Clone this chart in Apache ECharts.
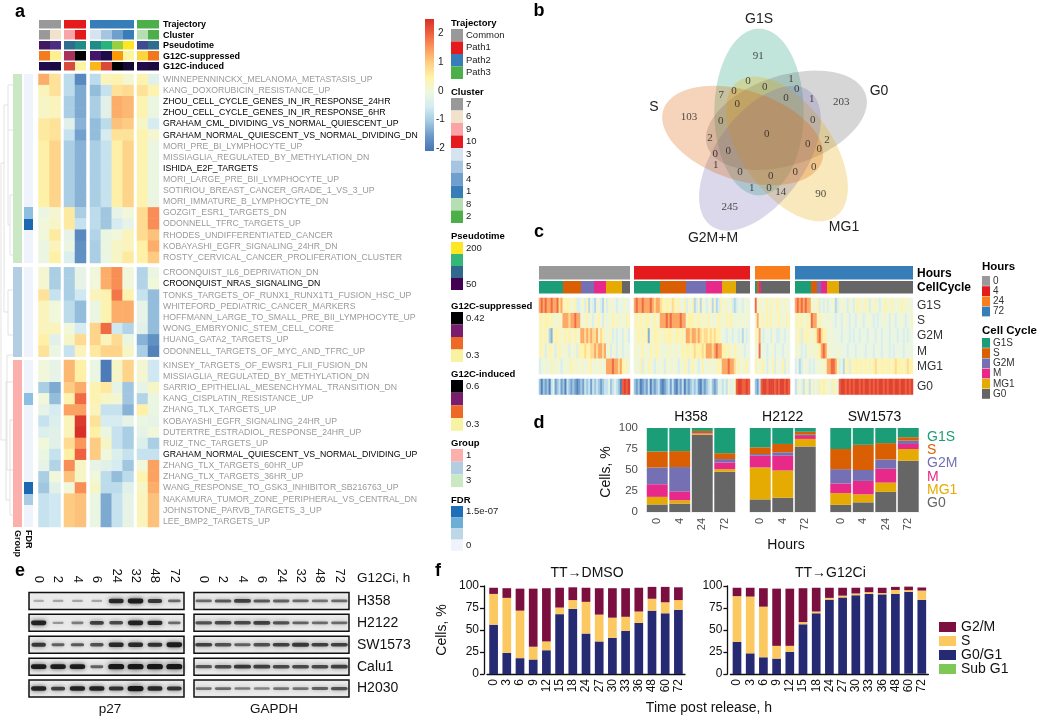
<!DOCTYPE html>
<html><head><meta charset="utf-8">
<style>html,body{margin:0;padding:0;background:#fff}#c{width:1040px;height:721px}</style>
<script src="https://cdn.jsdelivr.net/npm/echarts@6/dist/echarts.min.js"></script>
</head><body><div id="c"></div>
<script>
const SANS='"Liberation Sans",Arial,sans-serif', SERIF='"Liberation Serif",serif';
/* ===== panel a ===== */
const pathwayLabels=[
["WINNEPENNINCKX_MELANOMA_METASTASIS_UP","KANG_DOXORUBICIN_RESISTANCE_UP","ZHOU_CELL_CYCLE_GENES_IN_IR_RESPONSE_24HR","ZHOU_CELL_CYCLE_GENES_IN_IR_RESPONSE_6HR","GRAHAM_CML_DIVIDING_VS_NORMAL_QUIESCENT_UP","GRAHAM_NORMAL_QUIESCENT_VS_NORMAL_DIVIDING_DN","MORI_PRE_BI_LYMPHOCYTE_UP","MISSIAGLIA_REGULATED_BY_METHYLATION_DN","ISHIDA_E2F_TARGETS","MORI_LARGE_PRE_BII_LYMPHOCYTE_UP","SOTIRIOU_BREAST_CANCER_GRADE_1_VS_3_UP","MORI_IMMATURE_B_LYMPHOCYTE_DN","GOZGIT_ESR1_TARGETS_DN","ODONNELL_TFRC_TARGETS_UP","RHODES_UNDIFFERENTIATED_CANCER","KOBAYASHI_EGFR_SIGNALING_24HR_DN","ROSTY_CERVICAL_CANCER_PROLIFERATION_CLUSTER"],
["CROONQUIST_IL6_DEPRIVATION_DN","CROONQUIST_NRAS_SIGNALING_DN","TONKS_TARGETS_OF_RUNX1_RUNX1T1_FUSION_HSC_UP","WHITEFORD_PEDIATRIC_CANCER_MARKERS","HOFFMANN_LARGE_TO_SMALL_PRE_BII_LYMPHOCYTE_UP","WONG_EMBRYONIC_STEM_CELL_CORE","HUANG_GATA2_TARGETS_UP","ODONNELL_TARGETS_OF_MYC_AND_TFRC_UP"],
["KINSEY_TARGETS_OF_EWSR1_FLII_FUSION_DN","MISSIAGLIA_REGULATED_BY_METHYLATION_DN","SARRIO_EPITHELIAL_MESENCHYMAL_TRANSITION_DN","KANG_CISPLATIN_RESISTANCE_UP","ZHANG_TLX_TARGETS_UP","KOBAYASHI_EGFR_SIGNALING_24HR_UP","DUTERTRE_ESTRADIOL_RESPONSE_24HR_UP","RUIZ_TNC_TARGETS_UP","GRAHAM_NORMAL_QUIESCENT_VS_NORMAL_DIVIDING_UP","ZHANG_TLX_TARGETS_60HR_UP","ZHANG_TLX_TARGETS_36HR_UP","WANG_RESPONSE_TO_GSK3_INHIBITOR_SB216763_UP","NAKAMURA_TUMOR_ZONE_PERIPHERAL_VS_CENTRAL_DN","JOHNSTONE_PARVB_TARGETS_3_UP","LEE_BMP2_TARGETS_UP"]];
const blackLabels=["ZHOU_CELL_CYCLE_GENES_IN_IR_RESPONSE_24HR","ZHOU_CELL_CYCLE_GENES_IN_IR_RESPONSE_6HR","GRAHAM_CML_DIVIDING_VS_NORMAL_QUIESCENT_UP","GRAHAM_NORMAL_QUIESCENT_VS_NORMAL_DIVIDING_DN","ISHIDA_E2F_TARGETS","CROONQUIST_NRAS_SIGNALING_DN","GRAHAM_NORMAL_QUIESCENT_VS_NORMAL_DIVIDING_UP"];
const heatBlock1=[
[1.3,.7,-.8,-1.8,-.8,.3,.4,.1,.4,-.3],[.3,.7,-.8,-1.4,-1.2,-.7,.7,.8,.7,.4],[.2,.3,-1,-1.4,-1,-.3,1.3,1.2,.4,-.1],[.2,.3,-1,-1.4,-1,-.3,1.3,1.2,.4,-.1],
[.6,.7,-.3,-1.3,-1.2,-.8,1.1,1,.2,-.5],[.6,.7,-.7,-1.5,-1.2,-.5,.7,.7,.4,.1],[.5,.9,-1,-1.3,-1,-.7,.5,.9,.4,-.1],[.5,.9,-1,-1.3,-1,-.7,.5,.9,.4,-.1],
[.5,.9,-1,-1.3,-1,-.7,.5,.9,.4,-.1],[.5,.9,-1,-1.3,-1,-.7,.5,.9,.4,-.1],[.5,.9,-1,-1.3,-1,-.7,.5,.9,.4,-.1],[.5,.9,-1,-1.3,-1,-.7,.5,.9,.4,-.1],
[-.1,.1,.6,-1,-.8,-1.1,-.2,0,.8,1.6],[0,.2,.6,-.7,-.8,-1.1,-.5,-.2,.8,1.6],[0,.6,-.2,-1.8,-.9,-.1,0,.3,.8,1.1],[-.1,.3,-.1,-1.7,-1,-.1,.2,.3,.5,1.3],[-.1,.5,-.4,-1.7,-1,-.1,.2,.6,.5,1]];
const heatBlock2=[
[.1,-1,-1,-.2,0,1.3,1.6,0,-.9,-.1],[.1,-1,-1,-.2,0,1.3,1.6,0,-.9,0],[.7,-.7,-1,-.6,.3,.4,1.8,.4,-.7,-1.2],[.3,0,-.8,-1.2,-.1,.4,1.3,1.3,-.2,-1.2],
[.3,0,-.8,-1.2,-.1,.4,1.3,1.3,-.2,-1.2],[.3,.3,0,-.5,.9,1.9,-.6,-.9,-.3,-1.2],[.5,-.3,.2,.8,.9,.3,.8,-.1,-1.3,-1.7],[.7,-.1,-.7,.3,.6,.9,.9,.2,-1,-1.9]];
const heatBlock3=[
[0,-.2,1.2,.5,-.1,-2,.2,.9,.1,-.6],[0,-.2,1.2,.5,-.1,-2,.2,.9,.1,-.6],[-1,-1.4,1,1.3,.4,.6,-.2,-1.1,-.2,.2],[0,-1.2,.4,1.9,.4,.2,.1,-1.1,-.9,-.1],
[-.2,-.5,1.4,1.4,.3,-.7,-.7,-1.3,.5,-.1],[-.7,-.4,.3,2.4,.7,-.5,-.5,-.2,-.1,-.2],[-.4,-.3,.3,2.5,.5,-.1,-.7,-1,-.2,0],[0,-.3,.8,1.5,1,.2,-.7,-1,-.4,-1],
[-.1,-.7,.5,2,1,0,-.4,-.7,-.7,-.7],[-.2,-.9,1.6,.2,-.2,-.3,-.5,-1.1,0,1.4],[-1,0,1.1,.2,0,-.8,-1.2,-.8,.4,1.4],[-1.1,-.3,0,1.6,.2,-.8,-.8,-.3,.2,1.3],
[-.7,-.6,1,1.1,-.1,-1.4,-.7,-.2,.3,1.1],[-.7,-.6,1,1.1,-.1,-1.4,-.7,-.2,.3,1.1],[-.7,-.6,1,1.1,-.1,-1.4,-.7,-.2,.3,1.1]];
const annotNames=["Trajectory","Cluster","Pseudotime","G12C-suppressed","G12C-induced"];
const annotColors=[
["#999999","#999999","#e41a1c","#e41a1c","#377eb8","#377eb8","#377eb8","#377eb8","#4daf4a","#4daf4a"],
["#999999","#f2e2cc","#f9a5a8","#e41a1c","#d6e3f1","#a6c5e0","#6f9fcc","#377eb8","#b5dfb3","#4daf4a"],
["#43175f","#482d82","#2f6d8e","#1f8c86","#1f8c8a","#27b37a","#98d03f","#fde725","#3f4a90","#2f6d8e"],
["#f37c1e","#fcf08f","#a8325a","#000004","#43156b","#1f0c48","#fb9a06","#fcf6a0","#fcd43c","#f1771b"],
["#200c4a","#1a0b40","#d74b3c","#fbf5a0","#fbb61a","#d94a3c","#000004","#140b34","#1f0c48","#1c0b40"]];
const groupColors=["#cbe8c5","#b3cde3","#fbb0ab"];
const fdrBlock1=[0,0,0,0,0,0,0,0,0,0,0,0,2,4,0,0,0];
const fdrBlock2=[0,0,0,0,0,0,0,0];
const fdrBlock3=[0,0,0,2,0,0,0,0,0,0,0,4,1,0,0];
const fdrPalette=["#eff3fc","#aacbe6","#8dbfe0","#6baed6","#1c69b2"];
const heatPalette=['#4575b4','#6a98c8','#a3c9e2','#d3ebf3','#eef7e0','#fff3ab','#fdcf84','#fb9a5c','#ee6140','#d73027'];
const colorbarTicks=[2,1,0,-1,-2];
const dendroSegments=[[1,163,1,440],[1,163,4,163],[1,440,6,440],[4,105,4,312],[4,105,8,105],[4,312,8,312],[8,85,8,130],[8,85,13,85],[8,130,13,130],[8,130,8,225],[8,225,10,225],[10,195,10,255],[10,195,13,195],[10,255,13,255],[8,290,8,335],[8,290,13,290],[8,335,13,335],[6,382,6,500],[6,382,13,382],[6,500,10,500],[10,420,10,515],[10,420,13,420],[10,515,13,515],[7,355,7,470],[7,355,13,355],[7,470,13,470]];
/* legends a */
const legendA=[
{title:"Trajectory",y:23,top:29,h:12.5,items:[["#999999","Common"],["#e41a1c","Path1"],["#377eb8","Path2"],["#4daf4a","Path3"]]},
{title:"Cluster",y:92,top:98,h:12.5,items:[["#999999","7"],["#f2e2cc","6"],["#f9a5a8","9"],["#e41a1c","10"],["#d6e3f1","3"],["#a6c5e0","5"],["#6f9fcc","4"],["#377eb8","1"],["#b5dfb3","8"],["#4daf4a","2"]]},
{title:"Pseudotime",y:236,top:242,h:12,items:[["#fde725","200"],["#35b779",""],["#31688e",""],["#440154","50"]]},
{title:"G12C-suppressed",y:306,top:312,h:12.5,items:[["#000004","0.42"],["#7a1d6d",""],["#ed6925",""],["#f8f3a0","0.3"]]},
{title:"G12C-induced",y:374,top:380,h:12.7,items:[["#000004","0.6"],["#7a1d6d",""],["#ed6925",""],["#f8f3a0","0.3"]]},
{title:"Group",y:443,top:449,h:12.7,items:[["#fbb0ab","1"],["#b3cde3","2"],["#cbe8c5","3"]]},
{title:"FDR",y:500,top:506,h:11.2,items:[["#1f6fb8","1.5e-07"],["#6baed6",""],["#bdd7e7",""],["#eff3fc","0"]]}];
/* ===== panel b ===== */
const vennSets=["G1S","G0","MG1","G2M+M","S"];
const vennColors=["#1b9e77","#666666","#e6ab02","#7570b3","#d95f02"];
const vennCounts=[91,0,1,0,0,7,0,0,1,203,0,103,0,0,0,2,2,0,0,0,0,1,0,0,0,0,1,0,14,90,245];
const vennSpots=[[685,168],[654,243],[783,237],[704,261],[800,267],[574,286],[612,274],[768,293],[845,298],[934,305],[622,312],[477,350],[572,362],[848,360],[710,403],[540,415],[891,420],[833,433],[868,446],[595,452],[556,461],[557,495],[851,501],[630,516],[796,516],[722,527],[665,563],[717,563],[752,577],[872,582],[599,622]];
/* ===== panel c ===== */
const hourNames=["0","4","24","72"];
const hourColors=["#999999","#e41a1c","#f97d1c","#377eb8"];
const cycleNames=["G1S","S","G2M","M","MG1","G0"];
const cycleColors=["#1b9e77","#d95f02","#7570b3","#e7298a","#e6ab02","#666666"];
const cycleCounts=[[12,9,7,6,8,4],[13,13,10,8,7,7],[1,1,0,1,0,15],[8,3,2,3,6,37]];
const stripeLevels=[-1.9,-1.3,-.85,-.45,-.1,.15,.45,.8,1.35,1.9];
const g0Levels=[-1.9,-1.5,-1.1,-.7,-.25,.15,.5,.9,2,2.3];
const hours0=[
"898988988978 656645633 4536243 254325 35454344 4544",
"565665654555 888788988 5456453 556435 45465554 5465",
"565652156655 565655655 8878787 785765 45534344 3543",
"565356553565 455354536 6676677 878878 45354345 3444",
"344544645543 454565554 5545564 545545 88898878 6564",
"202120341231 203212101 2132313 232123 34234320 8989"];
const hours4=[
"8988988898788 7656657656446 3546235254 34525236 4554532 3443454",
"5656556645655 8889898888988 5666556555 56454565 5465654 4545454",
"5565656155665 5565665566565 8878878767 76767665 4434434 4342434",
"5545645465565 5445554554565 6656766676 88878988 6656546 5454344",
"4546354654354 4535454543546 5356453464 45545565 8889887 5645564",
"2120121302123 1012313102130 2123231021 23421244 3435445 8998898"];
const hours24=[
"9 5 5 545646546554554",
"5 8 5 564656455645465",
"6 5 8 434443543344344",
"5 4 9 444344534443444",
"6 4 5 564354635446354",
"2 1 3 899899989899898"];
const hours72=[
"89898988 554 63 435 344523 5454354356 5546535464 3456546545 4655454",
"56564565 988 56 545 454434 4345434434 5434454343 4454435434 4543445",
"55636565 556 89 766 445444 4344434344 3444344434 4344434443 4434344",
"54534355 455 56 898 545445 4444344434 4443444344 4344434344 4434444",
"34234543 434 54 555 889986 3425636566 5656565676 5665665676 6656766",
"34543553 545 46 565 554654 8998989899 8989989898 9989899899 8998989"];
const legendC=[
{title:"Hours",y:267,top:276,h:10.2,items:hourNames.map((n,i)=>[hourColors[i],n])},
{title:"Cell Cycle",y:331,top:338,h:10.2,items:cycleNames.map((n,i)=>[cycleColors[i],n])}];
/* ===== panel d (stack order bottom to top) ===== */
const dStackNames=["G0","MG1","M","G2M","S","G1S"];
const dColors=["#666666","#e6ab02","#e7298a","#7570b3","#d95f02","#1b9e77"];
const dH358Hours=["0","4","24","72"];
const dH358=[[9,10,92,48],[9,4,1,3],[15,10.5,.5,8],[20,29,.5,4],[19,19,2.5,7],[28,27.5,3.5,30]];
const dH2122Hours=["0","4","72"];
const dH2122=[[15,17,78],[38,32.5,9],[14,17.5,3.5],[2,4,1.5],[8,10,3.5],[23,19,4.5]];
const dSW1573Hours=["0","4","24","72"];
const dSW1573=[[8.5,11.5,24,61],[14,9.5,11,14],[11.5,16,16.5,6],[17,13,11,4],[24,30,19.5,4],[25,20,18,11]];
const dLegendNames=["G1S","S","G2M","M","MG1","G0"];
/* ===== panel e ===== */
const laneHours=["0","2","4","6","24","32","48","72"];
const cellLines=["H358","H2122","SW1573","Calu1","H2030"];
const p27Bands=[[.08,.12,.12,.12,.85,.95,.75,.45],[.9,.2,.35,.7,.65,.9,.85,.45],[.75,.5,.55,.6,.85,.85,.8,.95],[.95,.95,.95,.5,1,1,1,1],[.9,.7,.9,.9,.8,1,.85,.8]];
const gapdhBands=[[.45,.55,.7,.55,.5,.45,.4,.45],[.6,.65,.65,.7,.6,.5,.45,.45],[.7,.6,.5,.6,.7,.75,.7,.7],[.55,.65,.75,.7,.65,.65,.65,.7],[.4,.45,.35,.3,.4,.4,.5,.6]];
/* ===== panel f ===== */
const releaseHours=["0","3","6","9","12","15","18","24","27","30","33","36","48","60","72"];
const fNames=["Sub G1","G0/G1","S","G2/M"];
const fColors=["#7fc855","#262a72","#fcc860","#7b0f3f"];
const fLegendOrder=["G2/M","S","G0/G1","Sub G1"];
const dmsoSub=[0,0,0,0,0,0,0,0,0,0,0,0,0,0,0];
const dmsoG0=[56,24,18,16.5,27,68,74,46,37,41,49,58,72,69,73];
const dmsoS=[35,62.5,54,14.5,10,7.5,10,36,30.5,23,16,13,13.5,12.5,11];
const dmsoG2=[7,11,25,66,60.5,22.5,14.5,16,30,33.5,32.5,27,13.5,17.5,14.5];
const g12Sub=[0,0,0,0,0,0,0,0,0,0,0,0,0,.3,.3];
const g12G0=[36.5,23.5,19,17.5,25,56.5,69,84.5,87,89.5,91,90.5,91,93,84];
const g12S=[52,64.5,57.5,14.5,7,2.5,2,2,2,2,2,1.5,4.5,2,10.5];
const g12G2=[9.5,10,21,65,65,38.5,27,11.5,9,6.5,5.5,6,3.5,4,3.5];

/* ===== builders ===== */
const grids=[],xAxes=[],yAxes=[],series=[],graphics=[],heatIdx=[];
function addGrid(l,t,w,h,xa,ya){const i=grids.length;grids.push({left:l,top:t,width:w,height:h,containLabel:false});
  xAxes.push(Object.assign({gridIndex:i,show:false},xa));yAxes.push(Object.assign({gridIndex:i,show:false},ya));return i;}
function seq(n){return Array.from({length:n},(_,i)=>String(i));}
function heat(i,data){heatIdx.push(series.length);series.push({type:'heatmap',xAxisIndex:i,yAxisIndex:i,data,silent:true,progressive:0,animation:false});}
function cells(i,data,colors,gap){series.push({type:'custom',xAxisIndex:i,yAxisIndex:i,data,silent:true,animation:false,encode:{x:0,y:1},
  renderItem(p,api){const c=api.coord([api.value(0),api.value(1)]),s=api.size([1,1]);
    const x0=Math.round(c[0]-s[0]/2),x1=Math.round(c[0]+s[0]/2),y0=Math.round(c[1]-s[1]/2),y1=Math.round(c[1]+s[1]/2);
    return {type:'rect',shape:{x:x0,y:y0,width:x1-x0,height:y1-y0-gap},style:{fill:colors[p.dataIndex]}};}});}
function T(x,y,text,o){o=o||{};graphics.push({type:'text',x,y,rotation:o.rot||0,silent:true,z:50,style:{text,fill:o.fill||'#111',textAlign:o.align||'left',textVerticalAlign:'middle',font:(o.bold?'bold ':'')+(o.size||10)+'px '+(o.family||SANS)}});}
function R(x,y,w,h,fill){graphics.push({type:'rect',shape:{x,y,width:w,height:h},silent:true,style:{fill}});}
const cat=(d)=>({type:'category',data:d});

/* panel a */
const colGroups=[[38.5,22,[0,1]],[64,22,[2,3]],[90,43.5,[4,5,6,7]],[137,22,[8,9]]];
const rowBlocks=[[74,189,heatBlock1,fdrBlock1,0],[267.3,89.4,heatBlock2,fdrBlock2,1],[360,167,heatBlock3,fdrBlock3,2]];
colGroups.forEach((cg,gi)=>{
  const last=gi===colGroups.length-1;
  const ya=last?{show:true,type:'category',inverse:true,position:'right',data:annotNames,axisLine:{show:false},axisTick:{show:false},axisLabel:{fontSize:9,fontWeight:'bold',color:'#000',margin:4,interval:0,fontFamily:SANS}}
    :{type:'category',inverse:true,data:annotNames};
  const ai=addGrid(cg[0],19.7,cg[1],52.5,cat(seq(cg[2].length)),ya);
  const aData=[],aCol=[];
  annotColors.forEach((row,r)=>cg[2].forEach((c,k)=>{aData.push([k,r]);aCol.push(row[c]);}));
  cells(ai,aData,aCol,1.5);
  rowBlocks.forEach((b,bi)=>{
    const labs=pathwayLabels[bi];
    const y2=last?{show:true,type:'category',inverse:true,position:'right',data:labs,axisLine:{show:false},axisTick:{show:false},
        axisLabel:{fontSize:8.7,margin:4,interval:0,fontFamily:SANS,color:(v)=>blackLabels.includes(v)?'#000':'#9a9a9a'}}
      :{type:'category',inverse:true,data:labs};
    const hi=addGrid(cg[0],b[0],cg[1],b[1],cat(seq(cg[2].length)),y2);
    const d=[];b[2].forEach((row,r)=>cg[2].forEach((c,k)=>d.push([k,r,row[c]])));
    heat(hi,d);
  });
});
rowBlocks.forEach(b=>{
  const n=b[2].length;
  const g=addGrid(13,b[0],9,b[1],cat(["g"]),{type:'category',inverse:true,data:seq(n)});
  cells(g,b[2].map((_,r)=>[0,r]),b[2].map(()=>groupColors[b[4]]),0);
  const f=addGrid(24,b[0],8.5,b[1],cat(["f"]),{type:'category',inverse:true,data:seq(n)});
  cells(f,b[3].map((_,r)=>[0,r]),b[3].map(v=>fdrPalette[v]),0);
});
{const dg=addGrid(0,74,13,453,{type:'value',min:0,max:13},{type:'value',min:74,max:527,inverse:true});
 series.push({type:'custom',xAxisIndex:dg,yAxisIndex:dg,data:dendroSegments,silent:true,animation:false,encode:{x:[0,2],y:[1,3]},
  renderItem(p,api){const a=api.coord([api.value(0),api.value(1)]),b=api.coord([api.value(2),api.value(3)]);
   return {type:'line',shape:{x1:a[0],y1:a[1],x2:b[0],y2:b[1]},style:{stroke:'#dcdcdc',lineWidth:.8}};}});}
T(17.5,530,"Group",{rot:-Math.PI/2,bold:true,size:9});
T(28,530,"FDR",{rot:-Math.PI/2,bold:true,size:9});
graphics.push({type:'rect',shape:{x:425,y:19,width:9,height:132},silent:true,style:{fill:new echarts.graphic.LinearGradient(0,0,0,1,heatPalette.slice().reverse().map((c,i,a)=>({offset:i/(a.length-1),color:c})))}});
colorbarTicks.forEach(v=>T(v<0?436:438,91-v*28.7,String(v),{size:10,fill:'#222'}));
legendA.forEach(g=>{T(451,g.y,g.title,{bold:true,size:9.5,fill:'#000'});
  g.items.forEach((it,i)=>{R(451,g.top+i*g.h,12,g.h,it[0]);if(it[1])T(466,g.top+(i+.5)*g.h,it[1],{size:9.5,fill:'#222'});});});

/* panel b */
{const vg=addGrid(530,0,390,260,{type:'value',min:0,max:1170},{type:'value',min:0,max:780,inverse:true});
 series.push({type:'custom',xAxisIndex:vg,yAxisIndex:vg,data:vennSets.map((s,i)=>[i,0]),silent:true,animation:false,encode:{x:0,y:1},
  renderItem(p,api){const k=api.value(0),th=k*72*Math.PI/180,C=Math.cos(th),S=Math.sin(th);
    const cx=711+(-24*C+69*S),cy=405+(-24*S-69*C),pts=[];
    for(let a=0;a<120;a++){const t=a/120*2*Math.PI,u=134*Math.cos(t),v=250*Math.sin(t);
      pts.push(api.coord([cx+u*C-v*S,cy+u*S+v*C]));}
    return {type:'polygon',shape:{points:pts},style:{fill:vennColors[k],opacity:.27}};}});
 series.push({type:'scatter',xAxisIndex:vg,yAxisIndex:vg,symbolSize:1,itemStyle:{color:'rgba(0,0,0,0)'},silent:true,animation:false,z:5,
  data:vennCounts.map((v,i)=>[vennSpots[i][0],vennSpots[i][1],v]),
  label:{show:true,position:'inside',formatter:p=>String(p.value[2]),fontFamily:SERIF,fontSize:11,color:'#222'}});
}
[["G1S",759,19],["G0",879,91],["S",654,107],["MG1",844,227],["G2M+M",713,238]].forEach(a=>T(a[1],a[2],a[0],{size:14,align:'center',fill:'#222'}));

/* panel c */
const cGroups=[[539,91,hours0],[634,116,hours4],[755,35,hours24],[795,118,hours72]];
const clean=s=>s.replace(/\s/g,'');
cGroups.forEach((g,gi)=>{
  const rows=g[2].map(clean),n=rows[0].length,xs=cat(seq(n)),last=gi===3;
  const mk=(names,boldFlag)=>last?{show:true,type:'category',inverse:true,position:'right',data:names,axisLine:{show:false},axisTick:{show:false},
     axisLabel:{fontSize:12,margin:4,interval:0,fontFamily:SANS,color:boldFlag?'#000':'#333',fontWeight:boldFlag?'bold':'normal'}}:{type:'category',inverse:true,data:names};
  const a=addGrid(g[0],266,g[1],29,xs,mk(["Hours","CellCycle"],true));
  const d=[],c=[];let seqCols=[];cycleCounts[gi].forEach((m,ci)=>{for(let j=0;j<m;j++)seqCols.push(cycleColors[ci]);});
  for(let j=0;j<n;j++){d.push([j,0]);c.push(hourColors[gi]);d.push([j,1]);c.push(seqCols[j]);}
  cells(a,d,c,1.5);
  const h=addGrid(g[0],298,g[1],76,xs,mk(cycleNames.slice(0,5),false));
  const hd=[];rows.slice(0,5).forEach((r,ri)=>[...r].forEach((ch,j)=>hd.push([j,ri,stripeLevels[+ch]])));heat(h,hd);
  const z=addGrid(g[0],379,g[1],15.5,xs,mk(["G0"],false));
  heat(z,[...rows[5]].map((ch,j)=>[j,0,g0Levels[+ch]]));
});
legendC.forEach(g=>{T(982,g.y,g.title,{bold:true,size:11.5,fill:'#000'});
  g.items.forEach((it,i)=>{R(982,g.top+i*g.h,8,g.h-.4,it[0]);T(993,g.top+(i+.5)*g.h,it[1],{size:10,fill:'#333'});});});

/* panel d */
const dPanels=[["H358",646,90,dH358Hours,dH358],["H2122",749,67.5,dH2122Hours,dH2122],["SW1573",829.5,90,dSW1573Hours,dSW1573]];
dPanels.forEach((p,pi)=>{
  const g=addGrid(p[1],428,p[2],84,
    {show:true,type:'category',data:p[3],axisLine:{show:false},axisTick:{show:false},axisLabel:{rotate:90,fontSize:11,color:'#4d4d4d',margin:6,fontFamily:SANS,interval:0}},
    {show:true,type:'value',min:0,max:100,interval:25,axisLine:{show:false},axisTick:{show:false},splitLine:{show:true,lineStyle:{color:'#f0f0f0',width:.8}},
     axisLabel:{show:pi===0,fontSize:11.5,color:'#4d4d4d',margin:8,fontFamily:SANS}});
  p[4].forEach((vals,si)=>series.push({type:'bar',name:'cycle '+dStackNames[si],xAxisIndex:g,yAxisIndex:g,stack:'d'+pi,data:vals,barCategoryGap:'7%',silent:true,animation:false,
    itemStyle:{color:dColors[si]}}));
  T(p[1]+p[2]/2,417,p[0],{size:14,align:'center',fill:'#111'});
});
T(606,472,"Cells, %",{size:14,rot:Math.PI/2,align:'center'});
T(786,545,"Hours",{size:14,align:'center'});
dLegendNames.forEach((n,i)=>T(927,437+i*13.3,n,{size:14,fill:dColors[dStackNames.indexOf(n)]}));

/* panel e */
function blot(left,bands,wide){
  const g=addGrid(left,590,155,109.5,
    {show:true,type:'category',position:'top',data:laneHours,axisLine:{show:false},axisTick:{show:false},axisLabel:{rotate:90,fontSize:13,margin:7,color:'#111',interval:0,fontFamily:SANS}},
    {type:'category',inverse:true,data:cellLines});
  series.push({type:'custom',xAxisIndex:g,yAxisIndex:g,data:cellLines.map((_,r)=>[0,r]),silent:true,animation:false,encode:{x:0,y:1},
   renderItem(p,api){const c=api.coord([0,api.value(1)]),s=api.size([1,1]);
    return {type:'rect',shape:{x:c[0]-s[0]/2,y:c[1]-8.5,width:s[0]*8,height:17},style:{fill:'#ebebeb',stroke:'#111',lineWidth:1.5}};}});
  const d=[];bands.forEach((row,r)=>row.forEach((v,k)=>d.push([k,r,v])));
  series.push({type:'custom',xAxisIndex:g,yAxisIndex:g,data:d,silent:true,animation:false,encode:{x:0,y:1},z:3,
   renderItem(p,api){const c=api.coord([api.value(0),api.value(1)]),v=api.value(2),w=wide?15+3*v:10+6*v,h=2.2+3*v*v;
    return {type:'rect',shape:{x:c[0]-w/2,y:c[1]-h/2,width:w,height:h,r:h/2},style:{fill:'#111',opacity:.2+.75*v,shadowBlur:3+3*v,shadowColor:'rgba(0,0,0,'+(.2+.6*v)+')'}};}});
}
blot(29,p27Bands,false);blot(194,gapdhBands,true);
T(357,578,"G12Ci, h",{size:13.5});
cellLines.forEach((n,i)=>T(357,601+i*21.9,n,{size:14}));
T(110,709,"p27",{size:13.5,align:'center'});T(274,709,"GAPDH",{size:13.5,align:'center'});

/* panel f */
function stackF(left,title,cols){
  const g=addGrid(left,586,198,88,
    {show:true,type:'category',data:releaseHours,axisLine:{lineStyle:{color:'#111',width:1.3}},axisTick:{lineStyle:{color:'#111',width:1.3},length:4,alignWithLabel:true},axisLabel:{rotate:90,fontSize:12,color:'#111',margin:5,interval:0,fontFamily:SANS}},
    {show:true,type:'value',min:0,max:100,interval:25,offset:3,axisLine:{show:true,lineStyle:{color:'#111',width:1.3}},axisTick:{show:true,length:4,lineStyle:{color:'#111',width:1.3}},splitLine:{show:false},
     axisLabel:{fontSize:12,color:'#111',margin:5,fontFamily:SANS}});
  cols.forEach((vals,si)=>series.push({type:'bar',name:fNames[si],xAxisIndex:g,yAxisIndex:g,stack:title,data:vals,barWidth:8.7,silent:true,animation:false,itemStyle:{color:fColors[si]}}));
  T(left+100,573,title,{size:14,align:'center',fill:'#111'});
}
stackF(487,"TT→DMSO",[dmsoSub,dmsoG0,dmsoS,dmsoG2]);
stackF(730.4,"TT→G12Ci",[g12Sub,g12G0,g12S,g12G2]);
T(442,630,"Cells, %",{size:14,rot:Math.PI/2,align:'center'});
T(709,708,"Time post release, h",{size:14,align:'center'});

[["a",20,12],["b",539,11],["c",539,232],["d",539,423],["e",20,571],["f",438,571]].forEach(a=>T(a[1],a[2],a[0],{size:18,bold:true,align:'center',fill:'#000'}));

const chart=echarts.init(document.getElementById('c'),null,{renderer:'canvas',width:1040,height:721});
chart.setOption({animation:false,backgroundColor:'#fff',textStyle:{fontFamily:SANS},
  grid:grids,xAxis:xAxes,yAxis:yAxes,series,graphic:{elements:graphics},
  visualMap:[{type:'continuous',show:false,seriesIndex:heatIdx,dimension:2,min:-2.09,max:2.5,inRange:{color:heatPalette}}],
  legend:[{left:934,top:615,orient:'vertical',data:fLegendOrder,icon:'rect',itemWidth:17,itemHeight:10,itemGap:0,selectedMode:false,textStyle:{fontSize:14,color:'#111'}}],
  tooltip:{show:false}});
</script></body></html>
